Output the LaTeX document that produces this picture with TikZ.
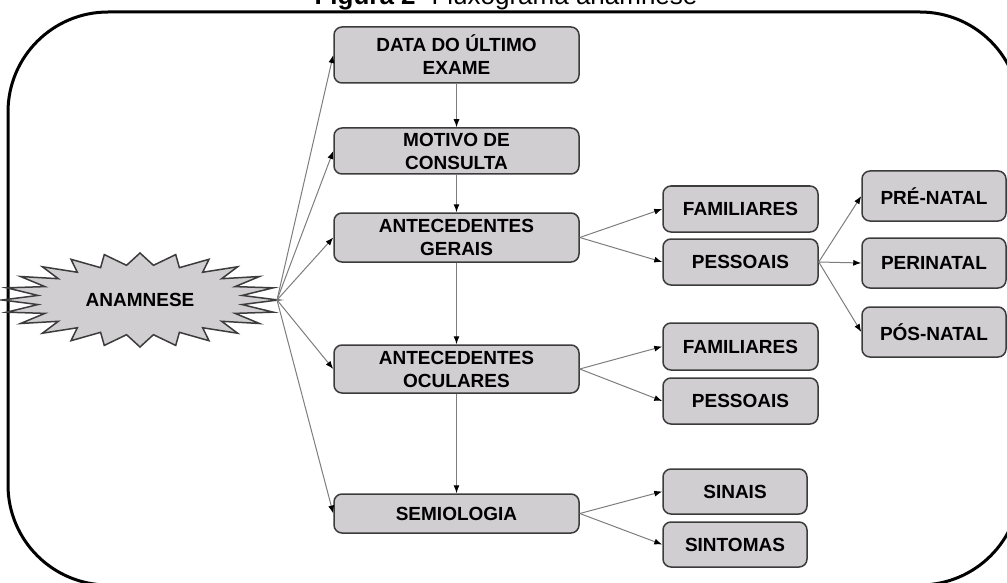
\documentclass[tikz,border=0pt]{standalone}
\usepackage{fontspec}
\setmainfont{Liberation Sans}
\usepackage{tikz}
\usetikzlibrary{arrows.meta}

\definecolor{boxgray}{RGB}{208,206,208}
\definecolor{edgegray}{RGB}{60,60,60}
\definecolor{linegray}{RGB}{125,125,125}

\begin{document}
\begin{tikzpicture}[x=1pt,y=-1pt,
	box/.style={draw=edgegray,fill=boxgray,line width=1.5pt,rounded corners=8pt,inner sep=0pt,align=center,font=\fontsize{19}{23}\selectfont\bfseries},
	mainbox/.style={box,minimum width=245},
	subbox/.style={box,minimum width=155},
	endbox/.style={box,minimum width=144},
	flow/.style={draw=linegray,line width=1pt,-{Latex[length=8pt,width=6pt,color=black]}}]
	\useasboundingbox (0,0) rectangle (1007,583);
	\draw[line width=3pt,rounded corners=100pt] (8,12) rectangle (1020,585);
	\node[anchor=base,font=\fontsize{26}{28}\selectfont] (title) at (506,5) {\textbf{Figura 2}- Fluxograma anamnese};

	\draw[draw=edgegray,fill=boxgray,line width=1.5pt] (278,300) \foreach \k in {1,...,24} { -- ({140+103*cos(15*\k-7.5)},{300+35*sin(15*\k-7.5)}) -- ({140+138*cos(15*\k)},{300+47*sin(15*\k)}) } -- cycle;
	\node[font=\fontsize{19}{23}\selectfont\bfseries] (anamnese) at (140,300) {ANAMNESE};
	\coordinate (tip) at (277,300);

	\node[mainbox,minimum height=56] (data) at (456.5,55) {DATA DO ÚLTIMO\\EXAME};
	\node[mainbox,minimum height=46] (motivo) at (456.5,151) {MOTIVO DE\\CONSULTA};
	\node[mainbox,minimum height=49] (gerais) at (456.5,237.5) {ANTECEDENTES\\GERAIS};
	\node[mainbox,minimum height=48] (oculares) at (456.5,369) {ANTECEDENTES\\OCULARES};
	\node[mainbox,minimum height=39] (semio) at (456.5,513.5) {SEMIOLOGIA};

	\node[subbox,minimum height=46] (famg) at (740.5,209) {FAMILIARES};
	\node[subbox,minimum height=46] (pesg) at (740.5,262) {PESSOAIS};
	\node[subbox,minimum height=47] (famo) at (740.5,346.5) {FAMILIARES};
	\node[subbox,minimum height=46] (peso) at (740.5,401) {PESSOAIS};
	\node[endbox,minimum height=45] (sinais) at (735,491.5) {SINAIS};
	\node[endbox,minimum height=45] (sintomas) at (735,544.5) {SINTOMAS};

	\node[endbox,minimum height=50] (pre) at (934,196) {PRÉ-NATAL};
	\node[endbox,minimum height=50] (peri) at (934,263) {PERINATAL};
	\node[endbox,minimum height=50] (pos) at (934,332) {PÓS-NATAL};

	\draw[flow] (tip) -- (data.west);
	\draw[flow] (tip) -- (motivo.west);
	\draw[flow] (tip) -- (gerais.west);
	\draw[flow] (tip) -- (oculares.west);
	\draw[flow] (tip) -- (semio.west);

	\draw[flow] (data) -- (motivo);
	\draw[flow] (motivo) -- (gerais);
	\draw[flow] (gerais) -- (oculares);
	\draw[flow] (oculares) -- (semio);

	\draw[flow] (gerais.east) -- (famg.west);
	\draw[flow] (gerais.east) -- (pesg.west);
	\draw[flow] (pesg.east) -- (pre.west);
	\draw[flow] (pesg.east) -- (peri.west);
	\draw[flow] (pesg.east) -- (pos.west);
	\draw[flow] (oculares.east) -- (famo.west);
	\draw[flow] (oculares.east) -- (peso.west);
	\draw[flow] (semio.east) -- (sinais.west);
	\draw[flow] (semio.east) -- (sintomas.west);
\end{tikzpicture}
\end{document}
